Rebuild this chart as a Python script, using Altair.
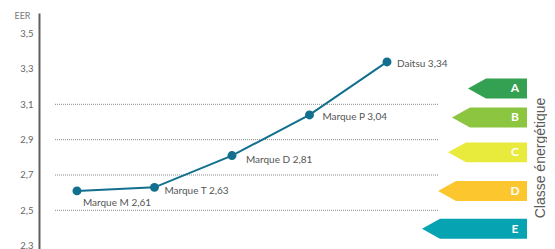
import altair as alt
import pandas as pd

# ---- data ----
brands = ["Marque M", "Marque T", "Marque D", "Marque P", "Daitsu"]
eer = [2.61, 2.63, 2.81, 3.04, 3.34]
tick_values = [2.3, 2.5, 2.7, 2.9, 3.1, 3.3, 3.5]
grid_values = [2.5, 2.7, 2.9, 3.1]
classes = ["A", "B", "C", "D", "E"]
class_pos = [3.19, 3.026, 2.828, 2.61, 2.395]   # vertical centre of each arrow on the EER scale

# ---- styles ----
class_colors = ["#34a052", "#8cc540", "#e8ea3c", "#fcc62e", "#06a3b2"]
arrow_len = [59, 75, 79, 89, 105]
label_dx = [6, 10, 14, 13, 10]
label_dy = [12, 4, 4, 2, 2]
LINE = "#126f8e"
FONT = "Lato"

df = pd.DataFrame({"i": list(range(len(brands))), "brand": brands, "eer": eer})
df["label"] = [f"{b} {str(v).replace('.', ',')}" for b, v in zip(brands, eer)]

# arrow shapes (custom paths in [-1,1] box, box = 110 px)
S = 110.0
k = S / 2
hh = 10 / k
hw = 18 / k
paths = []
for L in arrow_len:
    t = 1 - L / k
    paths.append(
        f"M 1 {-hh:.4f} L {t + hw:.4f} {-hh:.4f} L {t:.4f} 0 L {t + hw:.4f} {hh:.4f} L 1 {hh:.4f} Z"
    )
arrows = pd.DataFrame({"cls": classes, "pos": class_pos})
gridf = pd.DataFrame({"g": grid_values})

W, H = 508, 236
ydom = [2.281, 3.617]
xdom = [-0.49, 6.065]

yscale = alt.Scale(domain=ydom, nice=False, zero=False)
xscale = alt.Scale(domain=xdom, nice=False, zero=False)

YAX = alt.Axis(
    values=tick_values,
    labelExpr="replace(format(datum.value, '.1f'), '.', ',')",
    grid=False,
    ticks=False,
    domainColor="#5e5e5e",
    domainWidth=2,
    labelColor="#666666",
    labelFontSize=9.5,
    labelFont=FONT,
    labelPadding=6,
    labelFlush=False,
    title="EER",
    titleAngle=0,
    titleAlign="right",
    titleBaseline="middle",
    titleX=-9,
    titleY=2,
    titleFontSize=9,
    titleFontWeight="normal",
    titleColor="#777777",
    titleFont=FONT,
)


def Y(field):
    return alt.Y(field, scale=yscale, axis=YAX, title="EER")


def X(field):
    return alt.X(field, scale=xscale, axis=None)


grid = alt.Chart(gridf).mark_rule(color="#8a8a8a", strokeWidth=1, strokeDash=[1, 1]).encode(
    y=Y("g:Q"),
    x=alt.value(16),
    x2=alt.value(399),
)

line = alt.Chart(df).mark_line(color=LINE, strokeWidth=2).encode(x=X("i:Q"), y=Y("eer:Q"))
pts = alt.Chart(df).mark_point(color=LINE, filled=True, opacity=1, size=80).encode(
    x=X("i:Q"), y=Y("eer:Q")
)

labels = []
for j, b in enumerate(brands):
    labels.append(
        alt.Chart(df)
        .transform_filter(alt.datum.brand == b)
        .mark_text(align="left", baseline="middle", dx=label_dx[j], dy=label_dy[j],
                   fontSize=10, font=FONT, color="#555555")
        .encode(x=X("i:Q"), y=Y("eer:Q"), text="label:N")
    )

arrow_marks = alt.Chart(arrows).mark_point(filled=True, opacity=1, size=S * S, strokeWidth=0).encode(
    x=alt.value(527 - 39 - k),
    y=Y("pos:Q"),
    shape=alt.Shape("cls:N", scale=alt.Scale(domain=classes, range=paths), legend=None),
    color=alt.Color("cls:N", scale=alt.Scale(domain=classes, range=class_colors), legend=None),
)
letters = alt.Chart(arrows).mark_text(color="white", fontWeight="bold", fontSize=12, font=FONT,
                                      align="center", baseline="middle").encode(
    x=alt.value(515 - 39),
    y=Y("pos:Q"),
    text="cls:N",
)
side_title = alt.Chart(pd.DataFrame({"t": ["Classe énergétique"]})).mark_text(
    angle=270, fontSize=14, font="Liberation Sans", color="#5a5a5a", align="center", baseline="middle"
).encode(x=alt.value(540.5 - 39), y=alt.value(158 - 13), text="t:N")

chart = alt.layer(grid, line, pts, *labels, arrow_marks, letters, side_title).properties(
    width=W,
    height=H,
    autosize=alt.AutoSizeParams(type="none"),
    padding={"left": 31, "top": 5, "right": 0, "bottom": 0},
).configure_view(stroke=None)

chart.save("out.html", embed_options={"renderer": "svg", "actions": False})
